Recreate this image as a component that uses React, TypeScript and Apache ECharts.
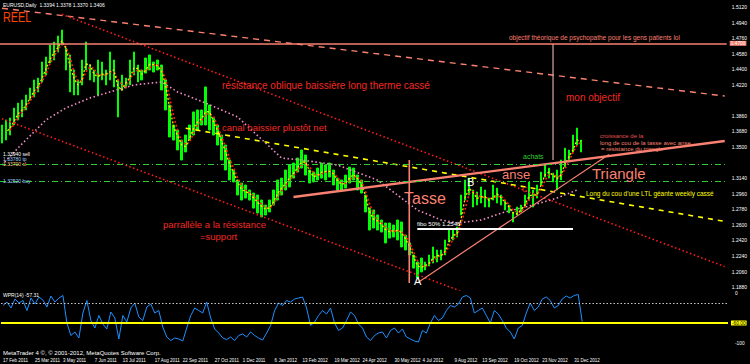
import React, { useEffect, useRef } from "react";
import * as echarts from "echarts";

// ---------- data ----------
const SLOT_COUNT = 182; // 146 daily bars (4px) + empty chart shift on the right
const slots = Array.from({ length: SLOT_COUNT }, (_, i) => String(i));

const highs = [
  1.3755, 1.3813, 1.3836, 1.3951, 1.4009, 1.4044, 1.4102, 1.4183, 1.4276, 1.4298,
  1.4484, 1.4542, 1.4680, 1.4715, 1.4785, 1.4854, 1.4645, 1.4565, 1.4391, 1.4276,
  1.4507, 1.4715, 1.4449, 1.4391, 1.4507, 1.4484, 1.4391, 1.4600, 1.4507, 1.4276,
  1.4333, 1.4298, 1.4507, 1.4600, 1.4449, 1.4391, 1.4530, 1.4565, 1.4484, 1.4507,
  1.4449, 1.4276, 1.3986, 1.3755, 1.3697, 1.3581, 1.3639, 1.3755, 1.3906, 1.3929,
  1.3929, 1.4195, 1.3986, 1.3836, 1.3755, 1.3639, 1.3523, 1.3350, 1.3234, 1.3119,
  1.3084, 1.3061, 1.3003, 1.2968, 1.2945, 1.2887, 1.2829, 1.2887, 1.3003, 1.3119,
  1.3141, 1.3234, 1.3292, 1.3315, 1.3373, 1.3466, 1.3408, 1.3234, 1.3211, 1.3257,
  1.3315, 1.3292, 1.3315, 1.3234, 1.3141, 1.3119, 1.3176, 1.3269, 1.3257, 1.3176,
  1.3119, 1.2945, 1.2794, 1.2772, 1.2714, 1.2656, 1.2621, 1.2621, 1.2598, 1.2656,
  1.2633, 1.2482, 1.2390, 1.2251, 1.2170, 1.2216, 1.2170, 1.2251, 1.2344, 1.2309,
  1.2309, 1.2425, 1.2540, 1.2540, 1.2575, 1.2945, 1.3119, 1.3141, 1.3003, 1.2980,
  1.3038, 1.3003, 1.2910, 1.3061, 1.3026, 1.2945, 1.2887, 1.2829, 1.2749, 1.2806,
  1.2829, 1.2945, 1.3096, 1.3003, 1.3061, 1.3211, 1.3292, 1.3257, 1.3199, 1.3234,
  1.3350, 1.3488, 1.3466, 1.3639, 1.3720, 1.3581,
];
const lows = [
  1.3546, 1.3581, 1.3639, 1.3755, 1.3813, 1.3848, 1.3929, 1.4044, 1.4079, 1.4137,
  1.4253, 1.4333, 1.4472, 1.4507, 1.4600, 1.4680, 1.4391, 1.4137, 1.4102, 1.4102,
  1.4218, 1.4391, 1.4276, 1.4253, 1.4102, 1.4276, 1.4218, 1.4276, 1.4195, 1.3848,
  1.4160, 1.4183, 1.4218, 1.4333, 1.4253, 1.4276, 1.4356, 1.4391, 1.4368, 1.4391,
  1.4160, 1.3929, 1.3616, 1.3581, 1.3466, 1.3350, 1.3443, 1.3581, 1.3639, 1.3697,
  1.3755, 1.3755, 1.3697, 1.3639, 1.3523, 1.3350, 1.3234, 1.3119, 1.3096, 1.2945,
  1.2887, 1.2910, 1.2887, 1.2794, 1.2737, 1.2691, 1.2714, 1.2749, 1.2829, 1.2887,
  1.2945, 1.3003, 1.3038, 1.3141, 1.3211, 1.3257, 1.3176, 1.3084, 1.3096, 1.3119,
  1.3141, 1.3119, 1.3153, 1.3061, 1.3003, 1.3003, 1.3026, 1.3084, 1.3119, 1.3003,
  1.2968, 1.2749, 1.2540, 1.2563, 1.2540, 1.2517, 1.2390, 1.2447, 1.2459, 1.2425,
  1.2344, 1.2309, 1.2251, 1.2100, 1.1985, 1.2055, 1.2078, 1.2124, 1.2158, 1.2170,
  1.2193, 1.2251, 1.2402, 1.2425, 1.2459, 1.2714, 1.2887, 1.2945, 1.2806, 1.2829,
  1.2852, 1.2806, 1.2806, 1.2887, 1.2852, 1.2829, 1.2772, 1.2737, 1.2633, 1.2714,
  1.2749, 1.2806, 1.2887, 1.2806, 1.2910, 1.3061, 1.3153, 1.3141, 1.3096, 1.3003,
  1.3119, 1.3269, 1.3327, 1.3443, 1.3523, 1.3443,
];

// slow moving average (pink dotted), read at a few bars
const slowMaIdx = [0, 4, 11, 16, 22, 27, 33, 40, 44, 51, 59, 66, 70, 75, 84, 94, 104, 110, 114, 120, 126, 133, 139, 144];
const slowMaVal = [
  1.3292, 1.3489, 1.3813, 1.3952, 1.4067, 1.4137, 1.4218, 1.4253, 1.4137, 1.4009, 1.3848, 1.3547,
  1.3373, 1.3350, 1.3292, 1.3119, 1.2772, 1.2656, 1.2621, 1.2656, 1.2749, 1.2829, 1.2910, 1.3003,
];

// Williams %R panel
const wpr = [
  -25, -18, -30, -12, -20, -15, -35, -10, -22, -8,
  -14, -28, -6, -18, -10, -5, -60, -85, -78, -90,
  -40, -15, -55, -70, -45, -62, -72, -38, -50, -92,
  -45, -58, -30, -20, -48, -55, -28, -22, -40, -35,
  -68, -88, -95, -90, -92, -96, -70, -45, -30, -35,
  -40, -18, -50, -72, -80, -90, -93, -88, -95, -85,
  -82, -88, -78, -85, -90, -94, -80, -65, -35, -20,
  -25, -15, -18, -12, -10, -8, -30, -65, -58, -45,
  -35, -42, -30, -60, -75, -70, -55, -38, -45, -62,
  -70, -88, -95, -85, -80, -78, -90, -75, -70, -80,
  -72, -88, -92, -96, -98, -75, -80, -60, -45, -55,
  -50, -35, -25, -28, -22, -8, -5, -10, -40, -35,
  -30, -45, -60, -35, -42, -55, -70, -78, -92, -70,
  -65, -40, -20, -35, -28, -12, -8, -15, -30, -25,
  -12, -6, -10, -5, -3, -57,
];
const wprLevelDotted = -20;
const wprLevelYellow = -60;
const wprTicks = [0, -100];

// trend lines: [bar index, price]
const resistLongDashed = [[0, 1.5106], [181, 1.409]];
const resistRedDotted = [[15, 1.5036], [181, 1.2117]];
const supportRedDotted = [[0, 1.3827], [120, 1.1745]];
const canalYellow = [[46, 1.3718], [181, 1.264]];
const neckline = [[73, 1.2922], [181, 1.357]];
const riseFromA = [[104, 1.1927], [152, 1.3415]];
const tasseDepth = [[102, 1.335], [102, 1.1927]];
const objectiveVertical = [[138, 1.4692], [138, 1.335]];
const fiboLine = [[104, 1.2552], [143, 1.2552]];
const objectiveLevel = 1.4692;
const greenLevels = [1.3292, 1.3084];
const tagOrangeHigh = 1.4032;
const tagWhite = 1.3385;
const tagOrangeLow = 1.3318;

// price tick labels (the ones hidden behind the price tags are left out, as in the terminal)
const yTicks = [
  1.188, 1.206, 1.224, 1.242, 1.26, 1.278, 1.296, 1.314, 1.35,
  1.368, 1.386, 1.422, 1.44, 1.458, 1.476, 1.494, 1.512,
];
const yMin = 1.18463;
const yMax = 1.5201;

const dateIdx = [0, 8, 15, 23, 30, 38, 45, 53, 60, 68, 75, 83, 90, 98, 105, 113, 120, 128, 135, 143];
const dateLabels = [
  "17 Feb 2011", "25 Mar 2011", "3 May 2011", "7 Jun 2011", "13 Jul 2011",
  "17 Aug 2011", "22 Sep 2011", "27 Oct 2011", "1 Dec 2011", "6 Jan 2012",
  "13 Feb 2012", "19 Mar 2012", "24 Apr 2012", "30 May 2012", "4 Jul 2012",
  "9 Aug 2012", "13 Sep 2012", "19 Oct 2012", "23 Nov 2012", "31 Dec 2012",
];

// ---------- chart ----------
const FONT = "Liberation Sans";
const SALMON = "#FA8072";
const RED = "#F02A22";

const mid = highs.map((h, i) => (h + lows[i]) / 2);
const maRed = mid.map((_, i) => (i < 2 ? null : (mid[i] + mid[i - 1] + mid[i - 2]) / 3));
const maYellow = mid.map((_, i) => (i < 1 ? null : (mid[i] + mid[i - 1]) / 2));

function txt(text: string, x: number, y: number, size: number, fill: string, extra: any = {}) {
  return {
    type: "text",
    x,
    y,
    silent: true,
    z: 100,
    ...extra,
    style: { text, fill, fontSize: size, fontFamily: FONT, verticalAlign: "top", align: "left" },
  };
}

function trend(data: any[], color: string, width: number, type: any, extra: any = {}) {
  return {
    type: "line",
    xAxisIndex: 0,
    yAxisIndex: 0,
    data,
    symbol: "none",
    silent: true,
    clip: true,
    lineStyle: { color, width, type },
    ...extra,
  };
}

function tagLabel(bg: string, fg: string, digits: number) {
  return {
    show: true,
    position: "end",
    distance: 3,
    formatter: (p: any) => Number(p.value).toFixed(digits),
    backgroundColor: bg,
    color: fg,
    fontSize: 4.8,
    lineHeight: 5,
    fontFamily: FONT,
    padding: [0, 1],
  };
}

function tag(value: number, bg: string, fg: string, hideLine = true, lineStyle: any = {}) {
  return {
    yAxis: value,
    lineStyle: hideLine ? { opacity: 0 } : lineStyle,
    label: tagLabel(bg, fg, 4),
  };
}

export default function App() {
  const ref = useRef<HTMLDivElement>(null);
  useEffect(() => {
    document.body.style.margin = "0";
    if (!ref.current) return;
    const chart = echarts.init(ref.current, undefined, { renderer: "svg" });
    const option: any = {
      animation: false,
      backgroundColor: "#000000",
      grid: [
        { left: 0, right: 22, top: 0, height: 290 },
        { left: 0, right: 22, top: 288, height: 60 },
      ],
      xAxis: [
        { type: "category", gridIndex: 0, data: slots, show: false, boundaryGap: true },
        {
          type: "category",
          gridIndex: 1,
          data: slots,
          boundaryGap: true,
          axisLine: { show: false },
          axisTick: { show: false },
          splitLine: { show: false },
          axisLabel: {
            interval: (i: number) => dateIdx.includes(i),
            formatter: (_v: string, i: number) => {
              const k = dateIdx.indexOf(i);
              return k >= 0 ? dateLabels[k] : "";
            },
            color: "#ffffff",
            fontSize: 4.5,
            fontFamily: FONT,
            align: "left",
            margin: 10,
          },
        },
      ],
      yAxis: [
        {
          type: "value",
          gridIndex: 0,
          position: "right",
          min: yMin,
          max: yMax,
          splitLine: { show: false },
          axisLine: { show: false },
          axisTick: { show: false },
          axisLabel: {
            customValues: yTicks,
            formatter: (v: number) => v.toFixed(4),
            color: "#ffffff",
            fontSize: 5,
            fontFamily: FONT,
            margin: 5,
          },
        },
        {
          type: "value",
          gridIndex: 1,
          position: "right",
          min: -110,
          max: 10,
          splitLine: { show: false },
          axisLine: { show: false },
          axisTick: { show: false },
          axisLabel: {
            customValues: wprTicks,
            color: "#ffffff",
            fontSize: 4.8,
            fontFamily: FONT,
            margin: 7,
          },
        },
      ],
      series: [
        {
          type: "candlestick",
          xAxisIndex: 0,
          yAxisIndex: 0,
          barWidth: 2,
          silent: true,
          data: highs.map((h, i) => [lows[i], h, lows[i], h]),
          itemStyle: {
            color: "#00FF00",
            color0: "#00FF00",
            borderColor: "#00FF00",
            borderColor0: "#00FF00",
            borderWidth: 1,
          },
          markLine: {
            symbol: "none",
            silent: true,
            animation: false,
            data: [
              tag(objectiveLevel, SALMON, "#ffffff", false, { color: SALMON, width: 1.5, type: "solid" }),
              { yAxis: greenLevels[0], lineStyle: { color: "#32CD32", width: 1, type: [6, 3, 1, 3] }, label: { show: false } },
              { yAxis: greenLevels[1], lineStyle: { color: "#32CD32", width: 1, type: [6, 3, 1, 3] }, label: { show: false } },
              tag(tagOrangeHigh, "#F7A26B", "#ffffff"),
              tag(tagWhite, "#ffffff", "#000000"),
              tag(tagOrangeLow, "#F7A26B", "#ffffff"),
            ],
          },
        },
        trend(slowMaIdx.map((i, k) => [i, slowMaVal[k]]), "#F590C8", 1.6, [1.5, 2.5]),
        trend(maRed.map((v, i) => [i, v]), "#FF1A1A", 1.6, [2, 2]),
        trend(maYellow.map((v, i) => [i, v]), "#FFE600", 1.4, [2, 2], { lineStyle: { color: "#FFE600", width: 1.3, type: [2, 2], dashOffset: 2 } }),
        trend(resistLongDashed, SALMON, 1.4, [6, 5]),
        trend(resistRedDotted, "#FF1A1A", 1.6, [1.5, 2.5]),
        trend(supportRedDotted, "#FF1A1A", 1.6, [1.5, 2.5]),
        trend(canalYellow, "#FFFF00", 1.6, [5, 5]),
        trend(neckline, SALMON, 2.4, "solid"),
        trend(riseFromA, SALMON, 1.2, "solid"),
        trend(tasseDepth, SALMON, 1.6, "solid"),
        trend(objectiveVertical, "#D9A8A0", 1.2, "solid"),
        trend(fiboLine, "#FFFFFF", 2, "solid"),
        {
          type: "line",
          xAxisIndex: 1,
          yAxisIndex: 1,
          data: wpr,
          symbol: "none",
          silent: true,
          lineStyle: { color: "#1E90FF", width: 1 },
          markLine: {
            symbol: "none",
            silent: true,
            animation: false,
            data: [
              { yAxis: wprLevelDotted, lineStyle: { color: "#C8C8C8", width: 1, type: [1.5, 2] }, label: { show: false } },
              {
                yAxis: wprLevelYellow,
                lineStyle: { color: "#FFFF00", width: 2, type: "solid" },
                label: { ...tagLabel("#FFFF00", "#000000", 2) },
              },
            ],
          },
        },
      ],
      graphic: [
        txt("EURUSD,Daily  1.3394 1.3378 1.3370 1.3406", 3, 2, 5, "#ffffff"),
        txt("REEL", 3, 9, 15, "#FF4500", { scaleX: 0.72 }),
        txt("objectif théorique de psychopathe pour les gens patients lol", 509, 34, 6.5, SALMON),
        txt("résistance oblique baissière long therme cassé", 222, 80, 10, RED),
        txt("mon objectif", 566, 92, 10, RED),
        txt("canal baissier plustôt net", 222, 122, 9.5, RED),
        txt("croissance de la", 600, 133, 6, "#E05050"),
        txt("long de cou de la tasse avec anse", 600, 140, 6, SALMON),
        txt("= résistance du triangle", 601, 146, 6, SALMON),
        txt("1.33940 sell", 3, 151, 5, "#ffffff"),
        txt("1.33780 tp", 3, 156, 5, "#9ecbff"),
        txt("1.33700 sl", 3, 161, 5, "#ffc080"),
        txt("1.32520 buy", 3, 178, 5, "#9ecbff"),
        txt("achats", 523, 153, 7, "#32CD32"),
        txt("anse", 502, 168, 13, SALMON),
        txt("Triangle", 592, 166, 15, SALMON),
        txt("B", 467, 176, 11, "#ffffff"),
        txt("C", 522, 185, 8, RED),
        txt("Tasse", 404, 190, 16, SALMON),
        txt("Long du cou d'une LTL géante weekly cassé", 586, 190, 6.5, "#FFFF00"),
        txt("parrallèle a la résistance", 163, 219, 9.5, RED),
        txt("=support", 200, 231, 9.5, RED),
        txt("fibo 50% 1.2548", 417, 221, 6, "#ffffff"),
        txt("A", 414, 275, 11, "#ffffff"),
        txt("WPR(14) -57.31", 3, 292, 5, "#ffffff"),
        txt("MetaTrader 4 ©, © 2001-2012, MetaQuotes Software Corp.", 3, 350, 6, "#ffffff"),
      ],
    };
    chart.setOption(option);
    return () => chart.dispose();
  }, []);
  return <div ref={ref} style={{ width: 750, height: 364, background: "#000" }} />;
}
